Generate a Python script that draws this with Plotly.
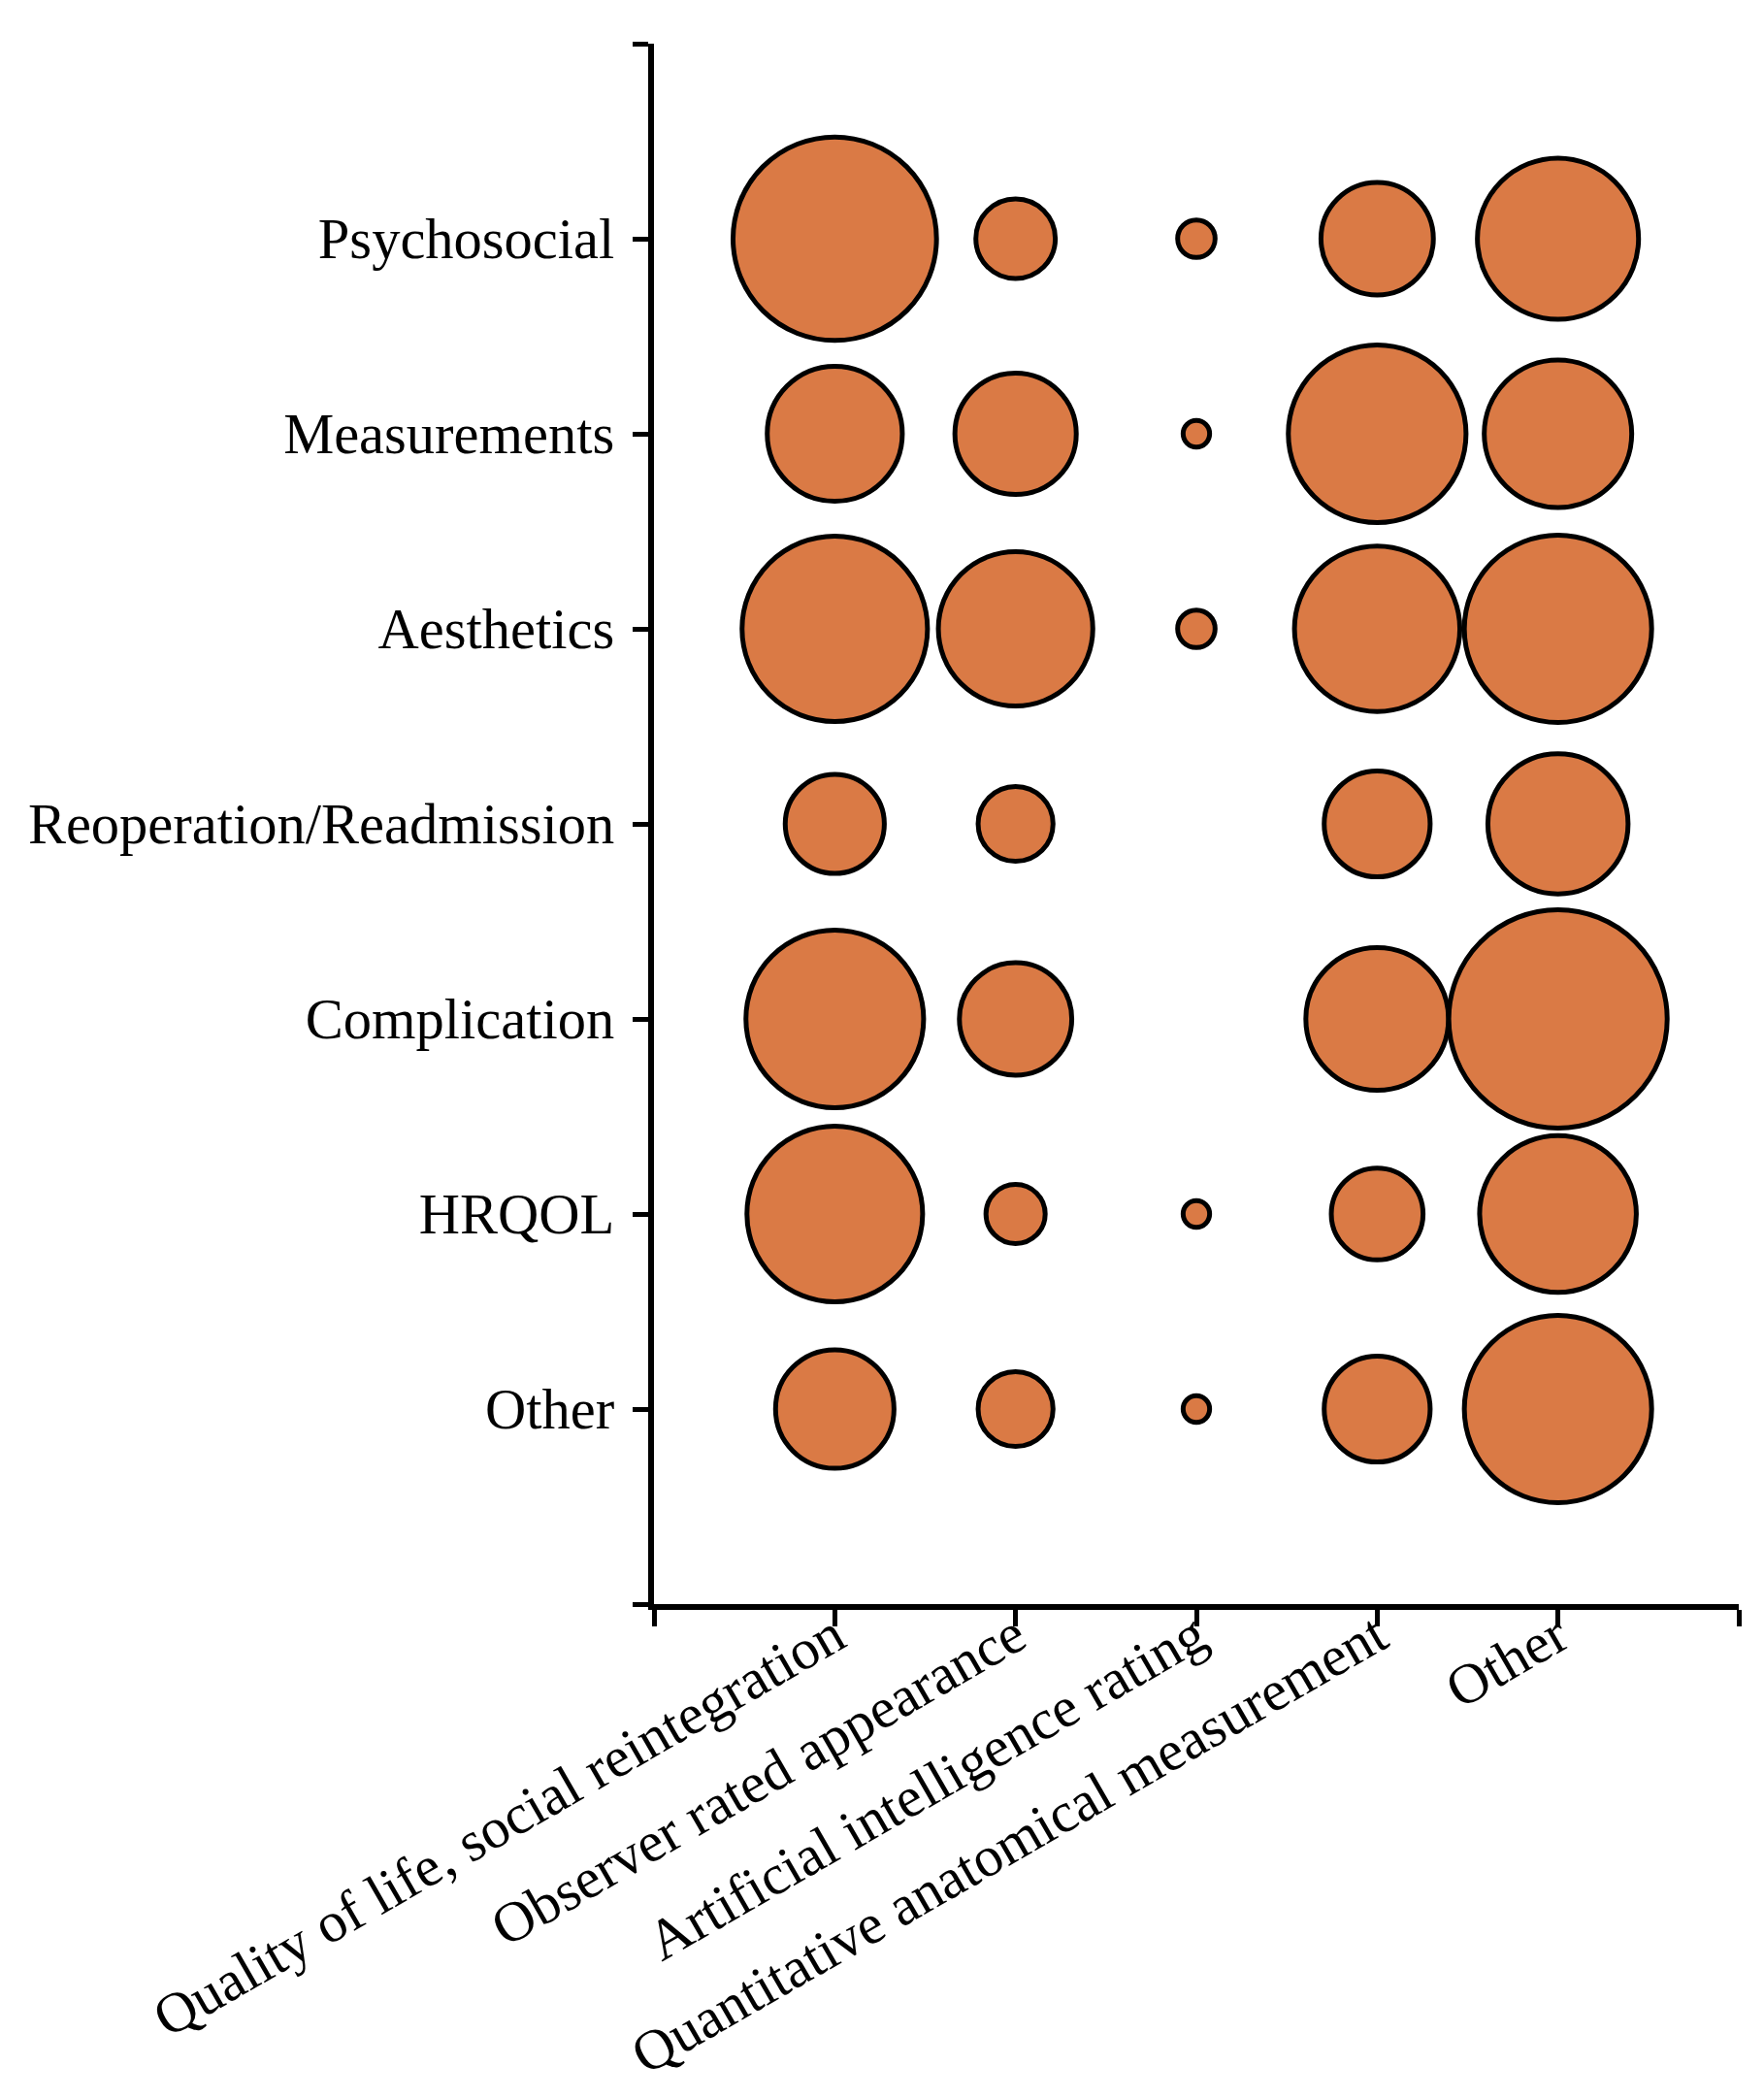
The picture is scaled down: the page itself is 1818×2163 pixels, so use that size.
import numpy as np
import plotly.graph_objects as go

# Categories
outcome_types = ["Quality of life, social reintegration", "Observer rated appearance",
                 "Artificial intelligence rating", "Quantitative anatomical measurement", "Other"]
domains = ["Other", "HRQOL", "Complication", "Reoperation/Readmission",
           "Aesthetics", "Measurements", "Psychosocial"]  # bottom -> top

# Counts per domain (rows) x outcome type (columns)
counts_other = [20, 8, 1, 16, 50]
counts_hrqol = [44, 5, 1, 12, 35]
counts_complication = [45, 18, 0, 29, 68]
counts_reoperation = [14, 8, 0, 16, 28]
counts_aesthetics = [49, 34, 2, 39, 50]
counts_measurements = [26, 21, 1, 45, 31]
counts_psychosocial = [59, 9, 2, 18, 37]

rows = [counts_other, counts_hrqol, counts_complication, counts_reoperation,
        counts_aesthetics, counts_measurements, counts_psychosocial]

xs, ys, vals = [], [], []
for ri, row in enumerate(rows):
    for ci, v in enumerate(row):
        if v > 0:
            xs.append(ci + 1)
            ys.append(ri + 1)
            vals.append(v)

vals = np.array(vals, dtype=float)
sizes = 27.3 * np.sqrt(vals)

fig = go.Figure(go.Scatter(
    x=xs, y=ys, mode="markers",
    marker=dict(size=sizes, sizemode="diameter", color="#DA7A45",
                line=dict(color="black", width=5), opacity=1),
    hoverinfo="text",
    text=[f"{outcome_types[x-1]} / {domains[y-1]}: {int(v)}" for x, y, v in zip(xs, ys, vals)],
    cliponaxis=False,
))

font = dict(family="Liberation Serif, Times New Roman, serif", size=58.5, color="black")

fig.update_layout(
    width=1810, height=2155,
    margin=dict(l=666, r=26, t=37, b=510, autoexpand=False),
    plot_bgcolor="white", paper_bgcolor="white",
    showlegend=False,
    font=font,
    xaxis=dict(
        range=[0, 6], tickmode="array",
        tickvals=list(range(0, 7)),
        ticktext=[""] + outcome_types + [""],
        tickangle=-30, ticks="outside", ticklen=17, tickwidth=5, tickcolor="black",
        showline=True, linewidth=6, linecolor="black",
        showgrid=False, zeroline=False, tickfont=font, automargin=False,
        ticklabelstandoff=-47,
    ),
    yaxis=dict(
        range=[0, 8], tickmode="array",
        tickvals=list(range(0, 9)),
        ticktext=[""] + domains + [""],
        ticks="outside", ticklen=16, tickwidth=5, tickcolor="black",
        showline=True, linewidth=6, linecolor="black",
        showgrid=False, zeroline=False, tickfont=font, automargin=False,
        ticklabelstandoff=7,
    ),
)

fig.write_html("out.html")
